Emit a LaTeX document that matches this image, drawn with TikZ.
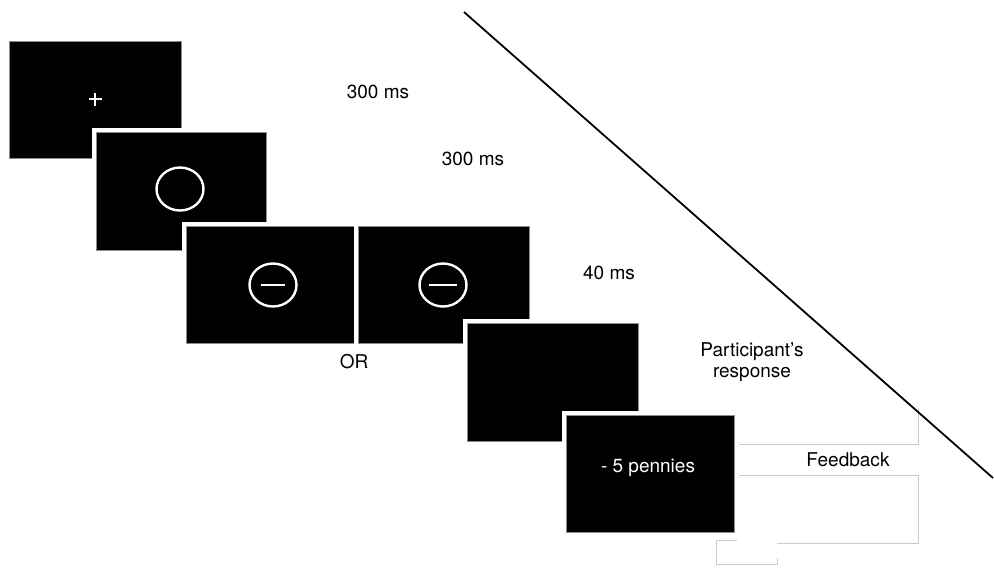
\documentclass[tikz,border=0pt]{standalone}
\usepackage{fontspec}
\setmainfont{TeX Gyre Heros}
\usetikzlibrary{shapes.geometric}
\begin{document}
\begin{tikzpicture}[x=1pt,y=-1pt,
  screen/.style={rectangle, inner sep=0pt, outer sep=0pt, fill=black, draw=black!45, line width=0.8pt,
    preaction={draw=white, line width=9pt}},
  ring/.style={ellipse, inner sep=0pt, draw=white, line width=2.4pt, minimum width=47pt, minimum height=43pt},
  lbl/.style={font=\fontsize{19}{21}\selectfont, text=black, align=center, inner sep=0pt},
  wlbl/.style={font=\fontsize{19}{21}\selectfont, text=white, inner sep=0pt},
  ghost/.style={draw=black!20, line width=0.8pt}]
\useasboundingbox (0,0) rectangle (994,568);
% faint text-box remnants
\draw[ghost] (918,408) -- (918,444) -- (738,444);
\draw[ghost] (738,475) -- (918,475) -- (918,543) -- (777,543);
\draw[ghost] (737,540) -- (716,540) -- (716,564) -- (777,564) -- (777,558);
% screens
\node[screen, minimum width=172pt, minimum height=117pt] (s1) at (95,99.5) {};
\coordinate (fix) at (95,99);
\draw[white, line width=2.4pt] (fix) +(-6.5,0) -- +(6.5,0) (fix) +(0,-6.5) -- +(0,6.5);
\node[screen, minimum width=170pt, minimum height=118pt] (s2) at (181,191) {};
\node[ring] (c2) at (180,189) {};
\node[screen, minimum width=168pt, minimum height=117pt] (s3a) at (270,284.5) {};
\node[ring] (c3a) at (273,285) {};
\draw[white, line width=2.4pt] (c3a.center) +(-12,0) -- +(12,0);
\node[screen, minimum width=171pt, minimum height=117pt] (s3b) at (443.5,284.5) {};
\node[ring] (c3b) at (443,285) {};
\draw[white, line width=2.4pt] (c3b.center) +(-14,0) -- +(14,0);
\node[screen, minimum width=171pt, minimum height=118pt] (s4) at (552.5,382) {};
\node[screen, minimum width=168pt, minimum height=117pt] (s5) at (650,473.5) {};
\node[wlbl] (pen) at (648,468) {- 5 pennies};
% labels
\node[lbl] (t1) at (378,92) {300 ms};
\node[lbl] (t2) at (473,159) {300 ms};
\node[lbl] (t3) at (609,273) {40 ms};
\node[lbl] (or) at (354,362) {OR};
\node[lbl] (resp) at (752,362) {Participant’s\\response};
\node[lbl] (fb) at (848,460) {Feedback};
% diagonal line
\coordinate (d1) at (464,12);
\coordinate (d2) at (993,478);
\draw[line width=1.8pt] (d1) -- (d2);
\end{tikzpicture}
\end{document}
